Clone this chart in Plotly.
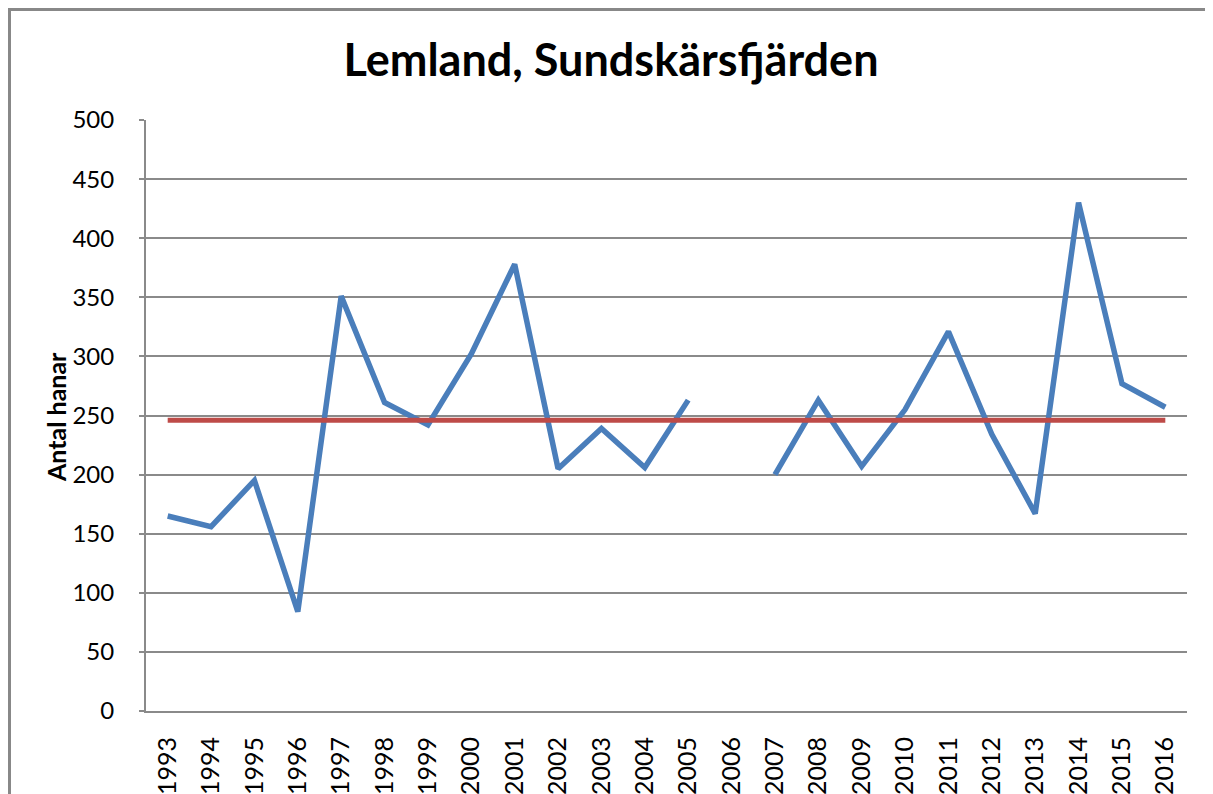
import plotly.graph_objects as go

years = [str(y) for y in [1993, 1994, 1995, 1996, 1997, 1998, 1999, 2000, 2001, 2002, 2003, 2004,
                          2005, 2006, 2007, 2008, 2009, 2010, 2011, 2012, 2013, 2014, 2015, 2016]]
antal_hanar = [165, 156, 195, 84, 351, 261, 242, 302, 378, 205, 239, 206,
               263, None, 200, 263, 207, 255, 321, 234, 167, 430, 277, 257]
medel_value = 246
medel = [medel_value] * len(years)

# page body has an 8px margin; compensate so the picture lines up with the window
OFF = 8
W, H = 1213 - OFF, 794 - OFF
L, R, T, B = 146 - OFF, 26, 120 - OFF, 83
pw, ph = W - L - R, H - T - B

def px_x(x):
    return (x - OFF - L) / pw

def px_y(y):
    return (OFF + T + ph - y) / ph

fig = go.Figure()
fig.add_trace(go.Scatter(x=years, y=antal_hanar, mode="lines",
                         line=dict(color="#4A7EBB", width=5.5), connectgaps=False,
                         name="Antal hanar", showlegend=False))
fig.add_trace(go.Scatter(x=years, y=medel, mode="lines",
                         line=dict(color="#BE4B48", width=5),
                         name="Medel", showlegend=False))

grid = "#8a8a8a"
fig.update_layout(
    width=W, height=H,
    margin=dict(l=L, r=R, t=T, b=B, autoexpand=False),
    paper_bgcolor="white", plot_bgcolor="white",
    title=dict(text="<b>Lemland, Sundskärsfjärden</b>", x=(611 - OFF) / W, xref="container",
               y=1 - (60 - OFF) / H, yref="container", xanchor="center", yanchor="middle",
               font=dict(family="Lato", size=45, color="black")),
    xaxis=dict(type="category", range=[-0.5, len(years) - 0.5], tickangle=-90, showgrid=False,
               showline=True, linecolor=grid, linewidth=2, mirror=False,
               ticks="", ticklabelstandoff=14, automargin=False,
               tickfont=dict(family="Lato", size=25, color="black")),
    yaxis=dict(range=[0, 500], dtick=50, tick0=0, showgrid=True, gridcolor=grid, gridwidth=2,
               showline=True, linecolor=grid, linewidth=2, zeroline=False, automargin=False,
               ticks="outside", ticklen=5, tickcolor=grid, tickwidth=2, ticklabelstandoff=20,
               tickfont=dict(family="Lato", size=24, color="black")),
    annotations=[dict(text="<b>Antal hanar</b>", x=px_x(56), y=px_y(417), xref="paper", yref="paper",
                      textangle=-90, showarrow=False, xanchor="center", yanchor="middle",
                      font=dict(family="Lato", size=25, color="black"))],
    shapes=[dict(type="rect", xref="paper", yref="paper",
                 x0=px_x(9.5), x1=px_x(1225), y0=px_y(815), y1=px_y(9.5),
                 line=dict(color="#888888", width=3), layer="below")],
)

fig.write_html("out.html")
